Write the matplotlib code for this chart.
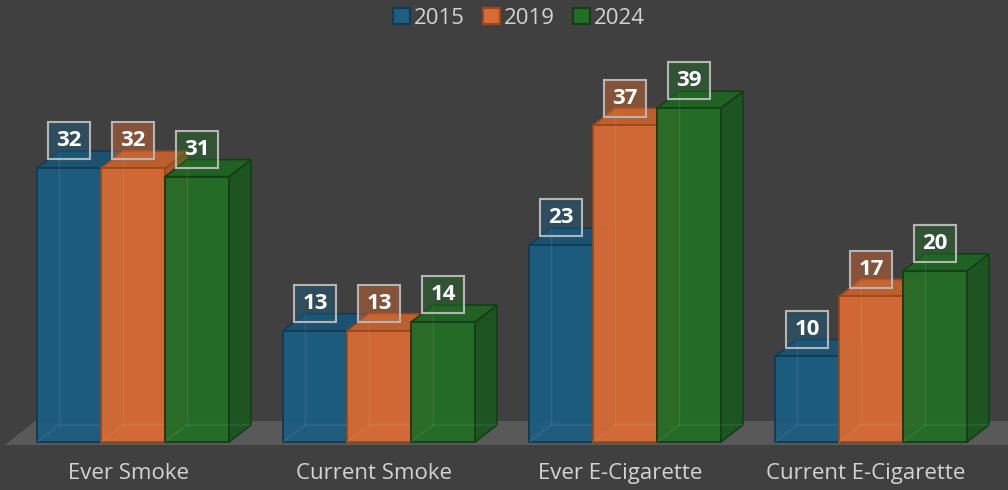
import matplotlib.pyplot as plt
from matplotlib.patches import Polygon, Rectangle, Patch

categories = ['Ever Smoke', 'Current Smoke', 'Ever E-Cigarette', 'Current E-Cigarette']
years = ['2015', '2019', '2024']
v2015 = [32, 13, 23, 10]
v2019 = [32, 13, 37, 17]
v2024 = [31, 14, 39, 20]
series = [v2015, v2019, v2024]

front = ['#1c5d80', '#d86b34', '#236e27']
side = ['#174b68', '#b0582a', '#1b5620']
top = ['#1a5473', '#c4612f', '#1f6323']
edge = ['#0f3b54', '#9c4719', '#123f15']

bg = '#404040'
txt = '#d3d3d3'

plt.rcParams['font.family'] = ['Open Sans', 'DejaVu Sans']

fig = plt.figure(figsize=(10.08, 4.90), dpi=100, facecolor=bg)
ax = fig.add_axes([0, 0, 1, 1])
ax.set_facecolor(bg)

# pixel scale: 246 px per category, 8.56 px per unit
px_x = 246.0
px_y = 8.56
ax.set_xlim(-133 / px_x, (1008 - 133) / px_x)
ax.set_ylim(-48 / px_y, (490 - 48) / px_y)
ax.axis('off')

w = 64 / px_x
dx = 22 / px_x
dy = 17 / px_y

# floor
floor = Polygon([(-128 / px_x, -3 / px_y), (1100 / px_x, -3 / px_y),
                 (1100 / px_x, 21 / px_y), (-98 / px_x, 21 / px_y)],
                closed=True, facecolor='#595959', edgecolor='none', zorder=1)
ax.add_patch(floor)

z = 2
for i, cat in enumerate(categories):
    for j, vals in enumerate(series):
        v = vals[i]
        x0 = i + (j - 1.5) * w
        x1 = x0 + w
        # side face
        ax.add_patch(Polygon([(x1, 0), (x1 + dx, dy), (x1 + dx, v + dy), (x1, v)],
                             closed=True, facecolor=side[j], edgecolor=edge[j],
                             lw=1.2, alpha=0.95, zorder=z))
        # top face
        ax.add_patch(Polygon([(x0, v), (x0 + dx, v + dy), (x1 + dx, v + dy), (x1, v)],
                             closed=True, facecolor=top[j], edgecolor=edge[j],
                             lw=1.2, alpha=0.95, zorder=z + 0.1))
        # front face
        ax.add_patch(Rectangle((x0, 0), w, v, facecolor=front[j], edgecolor=edge[j],
                               lw=1.4, alpha=0.95, zorder=z + 0.2))
        # faint hidden edges
        ax.plot([x0, x0 + dx, x1 + dx], [0, dy, dy], color='white', alpha=0.08,
                lw=1, zorder=z + 0.3)
        ax.plot([x0 + dx, x0 + dx], [dy, v + dy], color='white', alpha=0.08,
                lw=1, zorder=z + 0.3)
        z += 1

# value labels
bw = 42 / px_x
bh = 37 / px_y
for i in range(len(categories)):
    for j, vals in enumerate(series):
        v = vals[i]
        cx = i + (j - 1) * w
        cy = v + dy + 1.2
        ax.add_patch(Rectangle((cx - bw / 2, cy - bh / 2), bw, bh,
                               facecolor=front[j], alpha=0.45, edgecolor='none',
                               zorder=50))
        ax.add_patch(Rectangle((cx - bw / 2, cy - bh / 2), bw, bh,
                               facecolor='none', edgecolor='#b5b5b5', lw=1.5,
                               zorder=51))
        ax.text(cx, cy, str(v), ha='center', va='center', color='white',
                fontsize=16, fontweight='bold', zorder=52)

# category labels
for i, cat in enumerate(categories):
    ax.text(i - 5 / px_x, -31 / px_y, cat, ha='center', va='center', color=txt,
            fontsize=16)

handles = [Patch(facecolor=front[j], edgecolor=edge[j], lw=1.5) for j in range(3)]
leg = fig.legend(handles, years, loc='center', bbox_to_anchor=(0.515, 1 - 18 / 490),
                 ncol=3, frameon=False, fontsize=16, handlelength=0.75,
                 handleheight=0.75, handletextpad=0.2, columnspacing=0.8)
for t in leg.get_texts():
    t.set_color(txt)

fig.savefig('out.png', dpi=100, facecolor=bg)
